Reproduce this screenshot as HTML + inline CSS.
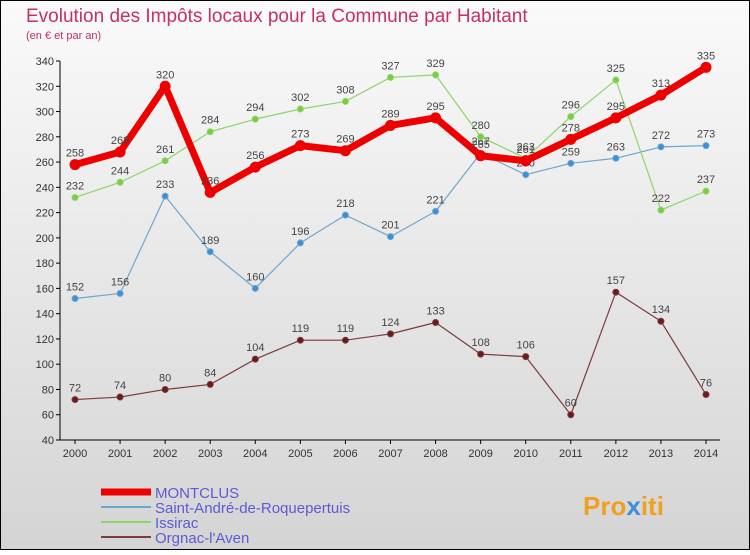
<!DOCTYPE html>
<html><head><meta charset="utf-8"><style>
body{margin:0;width:750px;height:550px;overflow:hidden;font-family:"Liberation Sans",sans-serif}
svg text{font-family:"Liberation Sans",sans-serif}
</style></head><body>
<svg id="chart" width="750" height="550" xmlns="http://www.w3.org/2000/svg">
<defs><linearGradient id="bg" x1="0" y1="0" x2="0" y2="1"><stop offset="0" stop-color="#fafafa"/><stop offset="1" stop-color="#d4d4d4"/></linearGradient></defs>
<rect x="0.5" y="0.5" width="749" height="549" fill="url(#bg)" stroke="#000"/>
<text x="26" y="22" font-size="19" fill="#c8305e">Evolution des Impôts locaux pour la Commune par Habitant</text>
<text x="26" y="39" font-size="11" fill="#c8305e">(en € et par an)</text>
<g id="axes"></g><g id="series"></g>
<g font-size="15" fill="#5b5bd6">
<line x1="101" y1="492" x2="151" y2="492" stroke="#e00" stroke-width="7"/><text x="155" y="498" fill="#5b5bd6">MONTCLUS</text>
<line x1="101" y1="507" x2="151" y2="507" stroke="#6fa6cc" stroke-width="2"/><text x="155" y="513" fill="#5b5bd6">Saint-André-de-Roquepertuis</text>
<line x1="101" y1="522" x2="151" y2="522" stroke="#8dd46a" stroke-width="2"/><text x="155" y="528" fill="#5b5bd6">Issirac</text>
<line x1="101" y1="537" x2="151" y2="537" stroke="#7a3b3b" stroke-width="2"/><text x="155" y="543" fill="#5b5bd6">Orgnac-l'Aven</text>
</g>
<text x="583" y="515" font-size="26" font-weight="bold" fill="#f0a020">Pro<tspan fill="#3a8fd8">x</tspan>iti</text>
</svg>
<script>
const years=[2000,2001,2002,2003,2004,2005,2006,2007,2008,2009,2010,2011,2012,2013,2014];
const yTicks=[40,60,80,100,120,140,160,180,200,220,240,260,280,300,320,340];
const montclus=[258,268,320,236,256,273,269,289,295,265,261,278,295,313,335];
const saintAndre=[152,156,233,189,160,196,218,201,221,267,250,259,263,272,273];
const issirac=[232,244,261,284,294,302,308,327,329,280,263,296,325,222,237];
const orgnac=[72,74,80,84,104,119,119,124,133,108,106,60,157,134,76];
const NS="http://www.w3.org/2000/svg";
function x(i){return 75+i*(631/(years.length-1));}
function y(v){return 440-(v-40)*(379/300);}
function mk(t,a,p){const e=document.createElementNS(NS,t);for(const k in a)e.setAttribute(k,a[k]);p.appendChild(e);return e;}
const ax=document.getElementById('axes');
mk('line',{x1:60,y1:y(340),x2:60,y2:440,stroke:'#000'},ax);
mk('line',{x1:60,y1:440,x2:720,y2:440,stroke:'#000'},ax);
yTicks.forEach(v=>{mk('line',{x1:56,y1:y(v),x2:60,y2:y(v),stroke:'#000'},ax);
 const t=mk('text',{x:54,y:y(v)+4,'text-anchor':'end','font-size':11,fill:'#333'},ax);t.textContent=v;
 
 });
years.forEach((yr,i)=>{mk('line',{x1:x(i),y1:440,x2:x(i),y2:444,stroke:'#000'},ax);
 const t=mk('text',{x:x(i),y:457,'text-anchor':'middle','font-size':11,fill:'#333'},ax);t.textContent=yr;
 
 });
const sg=document.getElementById('series');
function draw(data,name,color,w,r,fill){
 const g=mk('g',{},sg);
 
 
 mk('polyline',{points:data.map((v,i)=>x(i)+','+y(v)).join(' '),fill:'none',stroke:color,'stroke-width':w,'stroke-linejoin':'round'},g);
 data.forEach((v,i)=>{const c=mk('circle',{cx:x(i),cy:y(v),r:r,fill:fill,stroke:color},g);
  
  
  const t=mk('text',{x:x(i),y:y(v)-8,'text-anchor':'middle','font-size':11,fill:'#444'},g);t.textContent=v;
  
  });
}
draw(orgnac,'orgnac','#7a3b3b',1.2,3,'#6a1a1a');
draw(saintAndre,'saint-andre','#6fa6cc',1.2,3,'#3a8fd8');
draw(issirac,'issirac','#8dd46a',1.2,3,'#7acc40');
draw(montclus,'montclus','#e00',7,5,'#e00');
</script>
</body></html>
